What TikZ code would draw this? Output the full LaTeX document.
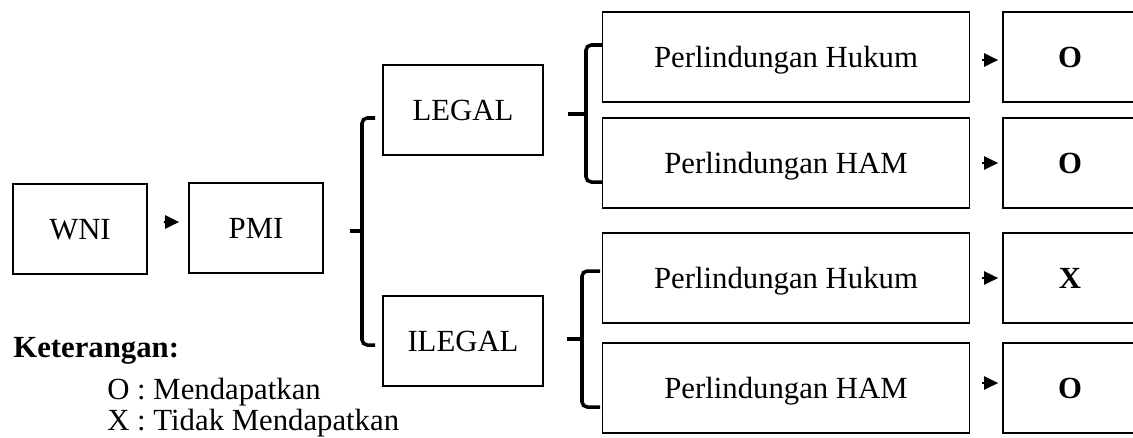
\documentclass[tikz,border=0pt]{standalone}
\usepackage{fontspec}
\setmainfont{Liberation Serif}
\usetikzlibrary{arrows.meta}
\tikzset{
  kotak/.style={draw, line width=1pt, minimum height=1.8cm, inner sep=0pt, text depth=0pt},
  kurung/.style={line width=2pt, rounded corners=3pt},
  panah/.style={-{Triangle[length=8pt,width=7.5pt]}, line width=1.2pt}
}
\begin{document}
\fontsize{17.5}{21}\selectfont
\begin{tikzpicture}[x=0.02cm, y=-0.02cm]
  \useasboundingbox (0,0) rectangle (1133,437);
  \node[kotak, minimum width=2.68cm] (wni) at (80,229) {WNI};
  \node[kotak, minimum width=2.68cm] (pmi) at (256,228) {PMI};
  \node[kotak, minimum width=3.2cm] (legal) at (463,110) {LEGAL};
  \node[kotak, minimum width=3.2cm] (ilegal) at (463,341) {ILEGAL};
  \draw[panah, shorten <=0.32cm, shorten >=0.18cm] ([yshift=0.14cm]wni.east) -- ([yshift=0.12cm]pmi.west);
  \foreach \i/\y/\teks/\hasil/\dy in {1/57/Hukum/O/-3, 2/163/HAM/O/0, 3/278/Hukum/X/0, 4/388/HAM/O/5} {
    \node[kotak, minimum width=7.34cm] (p\i) at (786,\y) {Perlindungan \teks};
    \node[kotak, minimum width=2.68cm, font=\bfseries] (h\i) at (1070,\y) {\hasil};
    \draw[panah, shorten <=0.24cm, shorten >=0.08cm] ([yshift=\dy*0.02cm]p\i.east) -- ([yshift=\dy*0.02cm]h\i.west);
  }
  % kurung kurawal
  \draw[kurung] (375,118) -- (362,118) -- (362,345) -- (375,345);
  \draw[kurung] (350,231) -- (362,231);
  \draw[kurung] (602,45) -- (586,45) -- (586,182) -- (602,182);
  \draw[kurung] (568,114) -- (586,114);
  \draw[kurung] (600,271) -- (582,271) -- (582,407) -- (600,407);
  \draw[kurung] (567,339) -- (582,339);
  % keterangan
  \node[anchor=base west, inner sep=0pt, font=\bfseries] (ket) at (13,357) {Keterangan:};
  \node[anchor=base west, inner sep=0pt] (ketO) at (107,399) {O : Mendapatkan};
  \node[anchor=base west, inner sep=0pt] (ketX) at (107,430) {X : Tidak Mendapatkan};
\end{tikzpicture}
\end{document}
